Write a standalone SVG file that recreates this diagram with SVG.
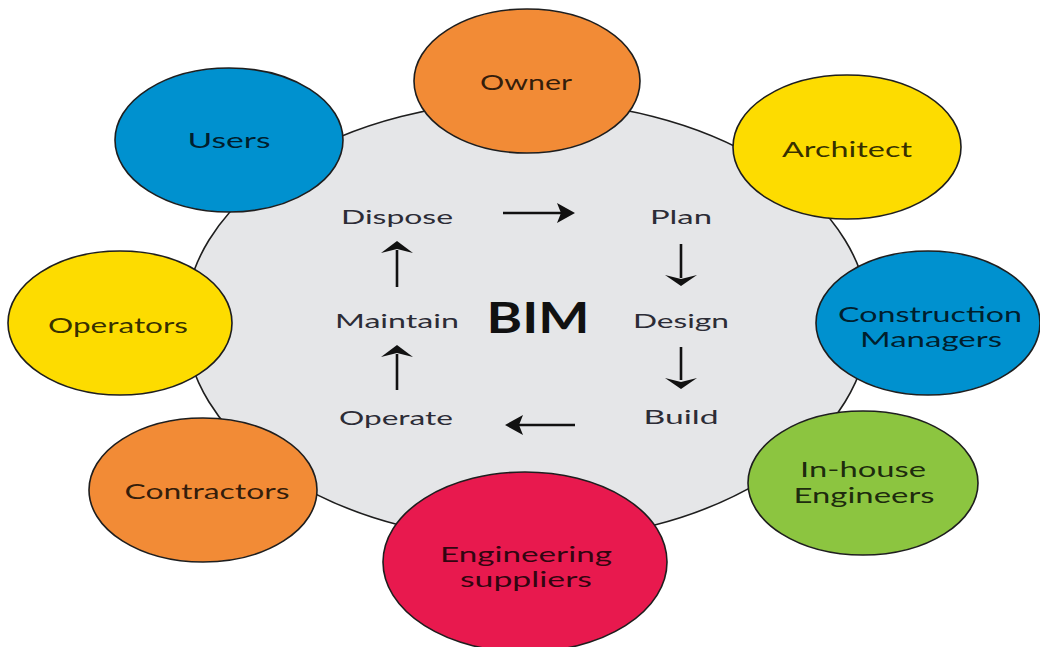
<svg xmlns="http://www.w3.org/2000/svg" width="1040" height="647" viewBox="0 0 1040 647">
<style>
.node{stroke:#1e1e1e;stroke-width:1.6}
.lbl{font-family:Lato,"Liberation Sans",sans-serif;font-size:22px;fill:#000;fill-opacity:0.8;text-anchor:middle}
.step{font-family:Lato,"Liberation Sans",sans-serif;font-size:20px;fill:#2c2c36;text-anchor:middle}
.shaft{stroke:#111;stroke-width:2.6;fill:none}
.head{fill:#111;stroke:none}
</style>
<rect width="1040" height="647" fill="#ffffff"/>
<g id="bim">
<ellipse class="node" cx="527" cy="321" rx="342" ry="220" fill="#e5e6e8"/>
<text x="538" y="333" font-family="Lato,'Liberation Sans',sans-serif" font-size="42" font-weight="bold" fill="#111" text-anchor="middle" textLength="103" lengthAdjust="spacingAndGlyphs">BIM</text>
</g>
<g id="steps">
<text class="step" x="397" y="224" textLength="112" lengthAdjust="spacingAndGlyphs">Dispose</text>
<text class="step" x="681" y="224" textLength="62" lengthAdjust="spacingAndGlyphs">Plan</text>
<text class="step" x="397" y="328" textLength="124" lengthAdjust="spacingAndGlyphs">Maintain</text>
<text class="step" x="681" y="328" textLength="96" lengthAdjust="spacingAndGlyphs">Design</text>
<text class="step" x="396" y="425" textLength="114" lengthAdjust="spacingAndGlyphs">Operate</text>
<text class="step" x="681" y="424" textLength="75" lengthAdjust="spacingAndGlyphs">Build</text>
</g>
<g id="connectors">
<line class="shaft" x1="503" y1="213" x2="562" y2="213"/>
<path class="head" d="M575,213 L557,203 L561,213 L557,223 Z"/>
<line class="shaft" x1="681" y1="244" x2="681" y2="278"/>
<path class="head" d="M681,286 L665,275 L681,279 L697,275 Z"/>
<line class="shaft" x1="681" y1="347" x2="681" y2="380"/>
<path class="head" d="M681,389 L665,378 L681,382 L697,378 Z"/>
<line class="shaft" x1="575" y1="425" x2="518" y2="425"/>
<path class="head" d="M505,425 L523,415 L519,425 L523,435 Z"/>
<line class="shaft" x1="397" y1="390" x2="397" y2="354"/>
<path class="head" d="M397,345 L381,357 L397,353 L413,357 Z"/>
<line class="shaft" x1="397" y1="287" x2="397" y2="250"/>
<path class="head" d="M397,241 L381,253 L397,249 L413,253 Z"/>
</g>
<g id="owner">
<ellipse class="node" cx="527" cy="81" rx="113" ry="72" fill="#f28b36"/>
<text class="lbl" x="526" y="90" textLength="92" lengthAdjust="spacingAndGlyphs">Owner</text>
</g>
<g id="users">
<ellipse class="node" cx="229" cy="140" rx="114" ry="72" fill="#0091cf"/>
<text class="lbl" x="229" y="148" textLength="83" lengthAdjust="spacingAndGlyphs">Users</text>
</g>
<g id="architect">
<ellipse class="node" cx="847" cy="147" rx="114" ry="72" fill="#fddc00"/>
<text class="lbl" x="847" y="157" textLength="130" lengthAdjust="spacingAndGlyphs">Architect</text>
</g>
<g id="construction-managers">
<ellipse class="node" cx="928" cy="323" rx="112" ry="72" fill="#0091cf"/>
<text class="lbl" x="930" y="322" style="font-size:21px" textLength="184" lengthAdjust="spacingAndGlyphs">Construction</text>
<text class="lbl" x="931" y="347" style="font-size:21px" textLength="142" lengthAdjust="spacingAndGlyphs">Managers</text>
</g>
<g id="in-house-engineers">
<ellipse class="node" cx="863" cy="483" rx="115" ry="72" fill="#8cc540"/>
<text class="lbl" x="863" y="477" textLength="126" lengthAdjust="spacingAndGlyphs">In-house</text>
<text class="lbl" x="864" y="503" textLength="141" lengthAdjust="spacingAndGlyphs">Engineers</text>
</g>
<g id="engineering-suppliers">
<ellipse class="node" cx="525" cy="562" rx="142" ry="90" fill="#e8194e"/>
<text class="lbl" x="526" y="562" textLength="172" lengthAdjust="spacingAndGlyphs">Engineering</text>
<text class="lbl" x="526" y="587" textLength="132" lengthAdjust="spacingAndGlyphs">suppliers</text>
</g>
<g id="contractors">
<ellipse class="node" cx="203" cy="490" rx="114" ry="72" fill="#f28b36"/>
<text class="lbl" x="207" y="499" textLength="165" lengthAdjust="spacingAndGlyphs">Contractors</text>
</g>
<g id="operators">
<ellipse class="node" cx="120" cy="323" rx="112" ry="72" fill="#fddc00"/>
<text class="lbl" x="118" y="333" textLength="140" lengthAdjust="spacingAndGlyphs">Operators</text>
</g>
</svg>
